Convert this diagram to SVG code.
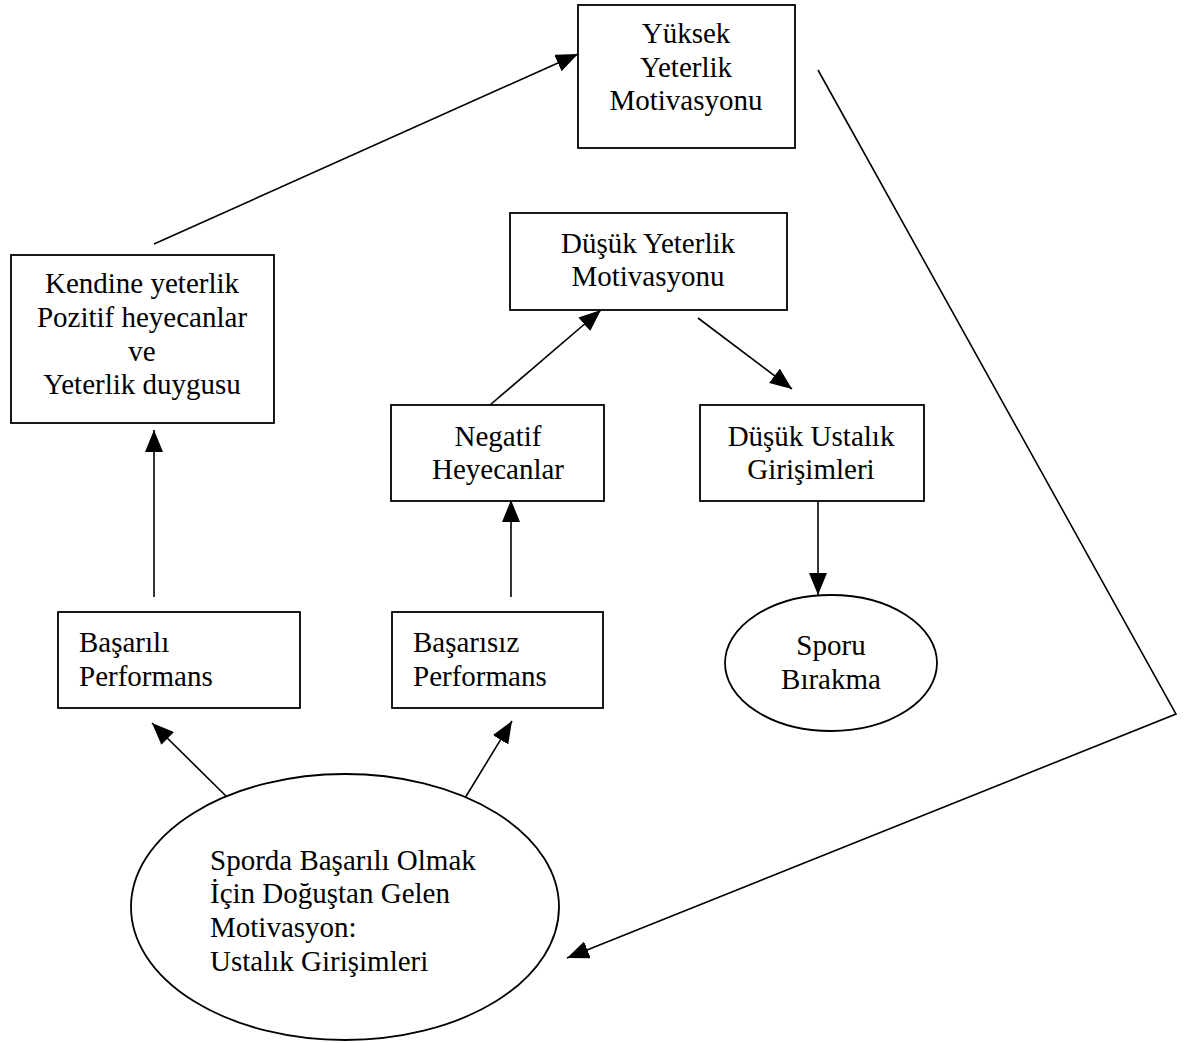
<svg xmlns="http://www.w3.org/2000/svg" width="1184" height="1043" viewBox="0 0 1184 1043">
<defs>
<style>
.box{fill:#fff;stroke:#000;stroke-width:1.8}
.c{text-anchor:middle}
.ln{stroke:#000;stroke-width:1.6;fill:none}
</style>
<marker id="ah" viewBox="0 0 22 18" refX="22" refY="9" markerWidth="22" markerHeight="18" markerUnits="userSpaceOnUse" orient="auto">
<path d="M0,0 L22,9 L0,18 Z" fill="#000"/>
</marker>
</defs>
<rect width="1184" height="1043" fill="#fff"/>
<g id="connectors">
<line class="ln" x1="154" y1="244" x2="578" y2="54" marker-end="url(#ah)"/>
<polyline class="ln" points="818,70 1176,714 567,958" marker-end="url(#ah)"/>
<line class="ln" x1="154" y1="597" x2="154" y2="430" marker-end="url(#ah)"/>
<line class="ln" x1="511" y1="597" x2="511" y2="500" marker-end="url(#ah)"/>
<line class="ln" x1="490" y1="405" x2="601" y2="310" marker-end="url(#ah)"/>
<line class="ln" x1="698" y1="318" x2="792" y2="389" marker-end="url(#ah)"/>
<line class="ln" x1="818" y1="501" x2="818" y2="595" marker-end="url(#ah)"/>
<line class="ln" x1="228" y1="798" x2="152" y2="723" marker-end="url(#ah)"/>
<line class="ln" x1="465" y1="798" x2="512" y2="721" marker-end="url(#ah)"/>
</g>
<g font-family="Liberation Serif, Times New Roman, serif" font-size="29" fill="#000">
<g id="yuksek">
<rect class="box" x="578" y="5" width="217" height="143"/>
<text class="c" x="686" y="43">Yüksek</text>
<text class="c" x="686" y="77">Yeterlik</text>
<text class="c" x="686" y="110">Motivasyonu</text>
</g>
<g id="kendine">
<rect class="box" x="11" y="255" width="263" height="168"/>
<text class="c" x="142" y="293">Kendine yeterlik</text>
<text class="c" x="142" y="327">Pozitif heyecanlar</text>
<text class="c" x="142" y="361">ve</text>
<text class="c" x="142" y="394">Yeterlik duygusu</text>
</g>
<g id="dusukYeterlik">
<rect class="box" x="510" y="213" width="277" height="97"/>
<text class="c" x="648" y="253">Düşük Yeterlik</text>
<text class="c" x="648" y="286">Motivasyonu</text>
</g>
<g id="negatif">
<rect class="box" x="391" y="405" width="213" height="96"/>
<text class="c" x="498" y="446">Negatif</text>
<text class="c" x="498" y="479">Heyecanlar</text>
</g>
<g id="dusukUstalik">
<rect class="box" x="700" y="405" width="224" height="96"/>
<text class="c" x="811" y="446">Düşük Ustalık</text>
<text class="c" x="811" y="479">Girişimleri</text>
</g>
<g id="basarili">
<rect class="box" x="58" y="612" width="242" height="96"/>
<text x="79" y="652">Başarılı</text>
<text x="79" y="686">Performans</text>
</g>
<g id="basarisiz">
<rect class="box" x="392" y="612" width="211" height="96"/>
<text x="413" y="652">Başarısız</text>
<text x="413" y="686">Performans</text>
</g>
<g id="sporu">
<ellipse class="box" cx="831" cy="663" rx="106" ry="68"/>
<text class="c" x="831" y="655">Sporu</text>
<text class="c" x="831" y="689">Bırakma</text>
</g>
<g id="dogustan">
<ellipse class="box" cx="345" cy="907" rx="214" ry="133"/>
<text x="210" y="870">Sporda Başarılı Olmak</text>
<text x="210" y="903">İçin Doğuştan Gelen</text>
<text x="210" y="937">Motivasyon:</text>
<text x="210" y="971">Ustalık Girişimleri</text>
</g>
</g>
</svg>
